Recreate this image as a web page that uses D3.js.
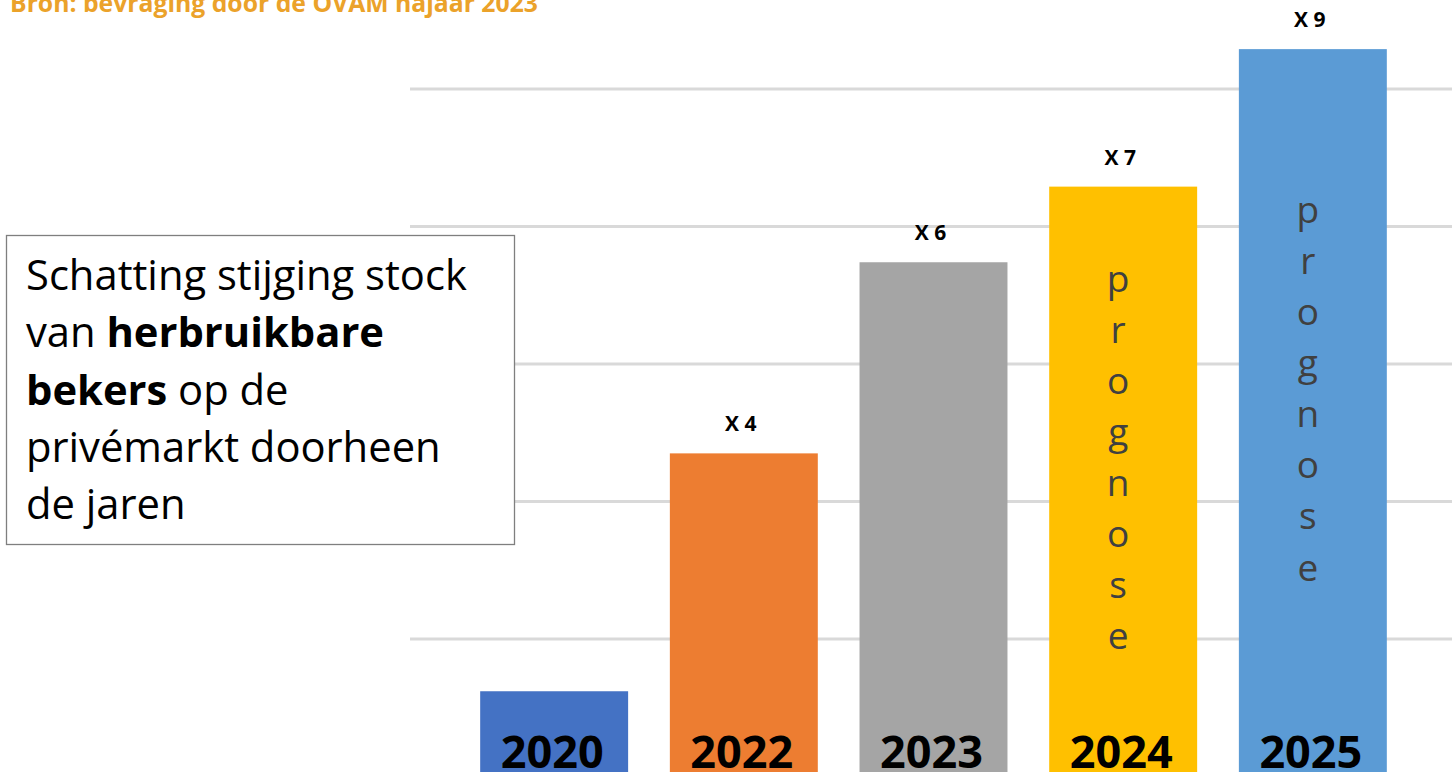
<!DOCTYPE html>
<html>
<head>
<meta charset="utf-8">
<script src="https://cdn.jsdelivr.net/npm/d3@7"></script>
<style>
  html, body { margin: 0; padding: 0; background: #fff; overflow: hidden; }
  svg { display: block; font-family: "Open Sans", "Noto Sans", sans-serif; }
</style>
</head>
<body>
<div id="chart"></div>
<script>
// data
var years = ["2020", "2022", "2023", "2024", "2025"];
var stock = [0.62, 2.35, 3.74, 4.29, 5.29];
var growthLabels = ["", "X 4", "X 6", "X 7", "X 9"];
var forecastYears = ["2024", "2025"];
var forecastWord = "prognose";
var gridTicks = [1, 2, 3, 4, 5];
var sourceText = "Bron: bevraging door de OVAM najaar 2023";
var boxLines = [
    [["Schatting stijging stock", false]],
    [["van ", false], ["herbruikbare", true]],
    [["bekers", true], [" op de", false]],
    [["privémarkt doorheen", false]],
    [["de jaren", false]]
];

var width = 1452, height = 772;

var svg = d3.select("#chart")
    .append("svg")
    .attr("width", width)
    .attr("height", height);

var x = d3.scaleBand()
    .domain(years)
    .range([410, 1457])
    .paddingInner(0.22)
    .paddingOuter(0.37);

var y = d3.scaleLinear()
    .domain([0, 5])
    .range([776.5, 89]);

var color = d3.scaleOrdinal()
    .domain(years)
    .range(["#4472C4", "#ED7D31", "#A5A5A5", "#FFC000", "#5B9BD5"]);

// gridlines
svg.append("g")
    .selectAll("line")
    .data(gridTicks)
    .enter()
    .append("line")
    .attr("x1", 410)
    .attr("x2", width)
    .attr("y1", function (d) { return y(d); })
    .attr("y2", function (d) { return y(d); })
    .attr("stroke", "#D9D9D9")
    .attr("stroke-width", 3);

// bars
var bar = svg.selectAll(".bar")
    .data(years)
    .enter()
    .append("g")
    .attr("class", "bar");

bar.append("rect")
    .attr("x", function (d) { return x(d); })
    .attr("y", function (d, i) { return y(stock[i]); })
    .attr("width", x.bandwidth())
    .attr("height", function (d, i) { return y(0) - y(stock[i]); })
    .attr("fill", function (d) { return color(d); });

// growth labels above bars
bar.append("text")
    .attr("x", function (d) { return x(d) + x.bandwidth() / 2 - 3; })
    .attr("y", function (d, i) { return y(stock[i]) - 22; })
    .attr("text-anchor", "middle")
    .attr("font-size", 21)
    .attr("font-weight", "bold")
    .attr("fill", "#000")
    .text(function (d, i) { return growthLabels[i]; });

// vertical "prognose" inside forecast bars
bar.filter(function (d) { return forecastYears.indexOf(d) >= 0; })
    .each(function (d) {
        var i = years.indexOf(d);
        var mid = (y(stock[i]) + y(0)) / 2;
        var t = d3.select(this).append("text")
            .attr("text-anchor", "middle")
            .attr("font-size", 37)
            .attr("fill", "#404040");
        t.selectAll("tspan")
            .data(forecastWord.split(""))
            .enter()
            .append("tspan")
            .attr("x", x(d) + x.bandwidth() / 2 - 5)
            .attr("y", function (c, k) { return mid - 190 + k * 51.1; })
            .text(function (c) { return c; });
    });

// year labels at the bottom
svg.append("g")
    .selectAll("text")
    .data(years)
    .enter()
    .append("text")
    .attr("x", function (d) { return x(d) + x.bandwidth() / 2 - 2; })
    .attr("y", 768)
    .attr("text-anchor", "middle")
    .attr("font-size", 45)
    .attr("font-weight", "bold")
    .attr("fill", "#000")
    .text(function (d) { return d; });

// source line (cut off at top)
var src = svg.append("text")
    .attr("x", 10)
    .attr("y", 12)
    .attr("font-size", 24)
    .attr("font-weight", "bold")
    .attr("fill", "#EBA22A")
    .text(sourceText);
fitWidth(src, 24, 528);

// text box
svg.append("rect")
    .attr("x", 6.5)
    .attr("y", 235.5)
    .attr("width", 508)
    .attr("height", 309)
    .attr("fill", "#fff")
    .attr("stroke", "#7F7F7F")
    .attr("stroke-width", 1.3);

var lines = svg.append("g")
    .selectAll("text")
    .data(boxLines)
    .enter()
    .append("text")
    .attr("x", 26)
    .attr("y", function (d, i) { return 290 + i * 57.3; })
    .attr("font-size", 40)
    .attr("fill", "#000");

lines.selectAll("tspan")
    .data(function (d) { return d; })
    .enter()
    .append("tspan")
    .attr("font-weight", function (d) { return d[1] ? "bold" : "normal"; })
    .text(function (d) { return d[0]; });

var first = lines.filter(function (d, i) { return i === 0; });
var size = 40 * 441 / first.node().getComputedTextLength();
lines.attr("font-size", size);

function fitWidth(sel, base, target) {
    var len = sel.node().getComputedTextLength();
    if (len > 0) sel.attr("font-size", base * target / len);
}
</script>
</body>
</html>
